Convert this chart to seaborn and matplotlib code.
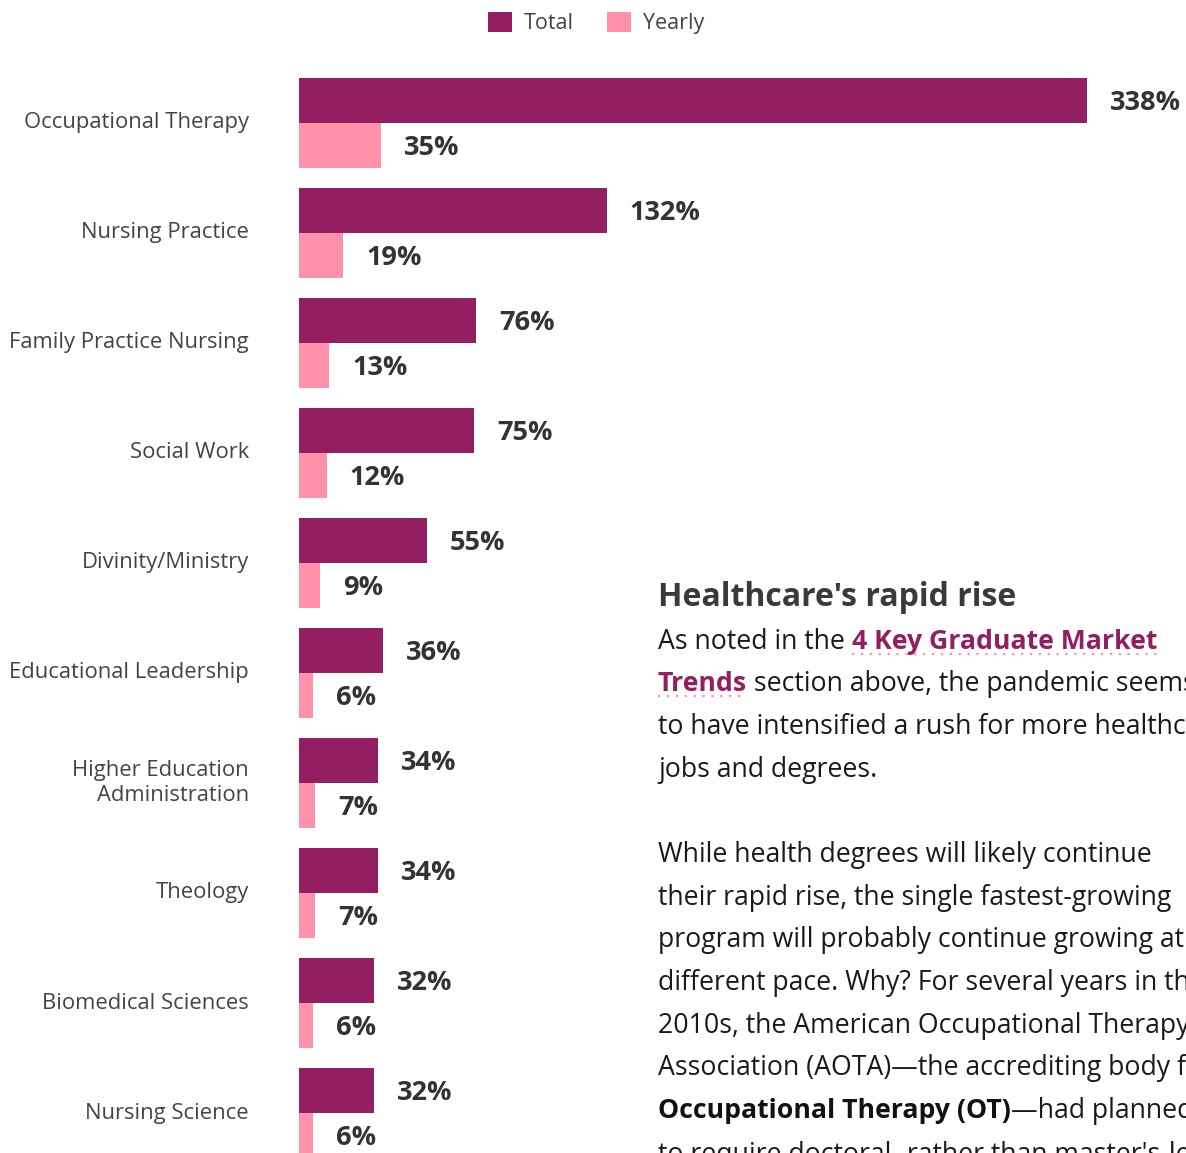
import matplotlib
matplotlib.use("Agg")
import matplotlib.pyplot as plt
import seaborn as sns
import pandas as pd
from matplotlib.lines import Line2D

categories = ["Occupational Therapy", "Nursing Practice", "Family Practice Nursing",
              "Social Work", "Divinity/Ministry", "Educational Leadership",
              "Higher Education\nAdministration", "Theology", "Biomedical Sciences",
              "Nursing Science"]
total = [338, 132, 76, 75, 55, 36, 34, 34, 32, 32]
yearly = [35, 19, 13, 12, 9, 6, 7, 7, 6, 6]
series = ["Total", "Yearly"]
colors = ["#931F62", "#FF91AA"]

W, H = 1186, 1153
sns.set_theme(style="white")
plt.rcParams["font.family"] = ["Open Sans", "DejaVu Sans"]

df = pd.DataFrame({
    "category": categories * 2,
    "value": total + yearly,
    "series": [series[0]] * len(categories) + [series[1]] * len(categories),
})

fig = plt.figure(figsize=(W / 100, H / 100), dpi=100)
ax = fig.add_axes([299 / W, 0, (W - 299) / W, 1])

sns.barplot(data=df, y="category", x="value", hue="series", hue_order=series,
            palette=colors, orient="h", width=0.82, dodge=True, ax=ax,
            saturation=1, edgecolor="none", linewidth=0)

px_per_unit = 788 / 338
ax.set_xlim(0, (W - 299) / px_per_unit)
ax.set_ylim(9.3636, -1.118)

for cont, vals in zip(ax.containers, [total, yearly]):
    anns = ax.bar_label(cont, labels=[f"{v}%" for v in vals], padding=16.5,
                        fontsize=19.5, fontweight="bold", color="#333333", clip_on=False)
    for a in anns:
        a.xyann = (16.5, -2)

ax.set_xlabel("")
ax.set_ylabel("")
ax.set_xticks([])
ax.tick_params(axis="y", length=0, pad=36, labelsize=15.8, labelcolor="#444444")
for lab in ax.get_yticklabels():
    lab.set_horizontalalignment("right")
    lab.set_verticalalignment("center")
for s in ax.spines.values():
    s.set_visible(False)

handles, labels = ax.get_legend_handles_labels()
if ax.get_legend() is not None:
    ax.get_legend().remove()
fig.legend(handles, labels, loc="center", bbox_to_anchor=(596 / W, 1 - 23 / H),
           ncol=2, frameon=False, fontsize=15.5, handlelength=1.1, handleheight=1.1,
           handletextpad=0.55, columnspacing=1.55, labelcolor="#444444")

# Overlaid article text
def fx(x):
    return x / W

def fy(y):
    return 1 - y / H

fig.text(fx(658), fy(597), "Healthcare's rapid rise", fontsize=23, fontweight="bold",
         color="#3a3a3a", va="center", ha="left")

body_kw = dict(fontsize=19.2, color="#1a1a1a", va="center", ha="left")
link_kw = dict(fontsize=19.2, color="#931F62", fontweight="bold", va="center", ha="left")

t1 = fig.text(fx(658), fy(642), "As noted in the ", **body_kw)
l1 = fig.text(0, 0, "4 Key Graduate Market", **link_kw)
l2 = fig.text(fx(658), fy(684), "Trends", **link_kw)
t2 = fig.text(0, 0, " section above, the pandemic seems", **body_kw)
fig.text(fx(658), fy(727), "to have intensified a rush for more healthcare", **body_kw)
fig.text(fx(658), fy(770), "jobs and degrees.", **body_kw)

para2 = ["While health degrees will likely continue",
         "their rapid rise, the single fastest-growing",
         "program will probably continue growing at a",
         "different pace. Why? For several years in the",
         "2010s, the American Occupational Therapy",
         "Association (AOTA)\u2014the accrediting body for"]
ys = [855, 898, 940, 983, 1026, 1068]
for line, y in zip(para2, ys):
    fig.text(fx(658), fy(y), line, **body_kw)
b1 = fig.text(fx(658), fy(1111), "Occupational Therapy (OT)", fontsize=19.2,
              color="#111111", fontweight="bold", va="center", ha="left")
b2 = fig.text(0, 0, "\u2014had planned", **body_kw)
fig.text(fx(658), fy(1155), "to require doctoral- rather than master's-level", **body_kw)

fig.canvas.draw()
r = fig.canvas.get_renderer()

def place_after(prev, nxt):
    bb = prev.get_window_extent(r)
    nxt.set_position((bb.x1 / W, (bb.y0 + bb.y1) / 2 / H))

place_after(t1, l1)
place_after(l2, t2)
place_after(b1, b2)
fig.canvas.draw()

for lt in (l1, l2):
    bb = lt.get_window_extent(r)
    yline = (bb.y0 + 1) / H
    fig.add_artist(Line2D([bb.x0 / W, bb.x1 / W], [yline, yline], color="#FF91AA",
                          linestyle=(0, (1, 3)), linewidth=1.6,
                          transform=fig.transFigure))

fig.savefig("out.png", dpi=100)
